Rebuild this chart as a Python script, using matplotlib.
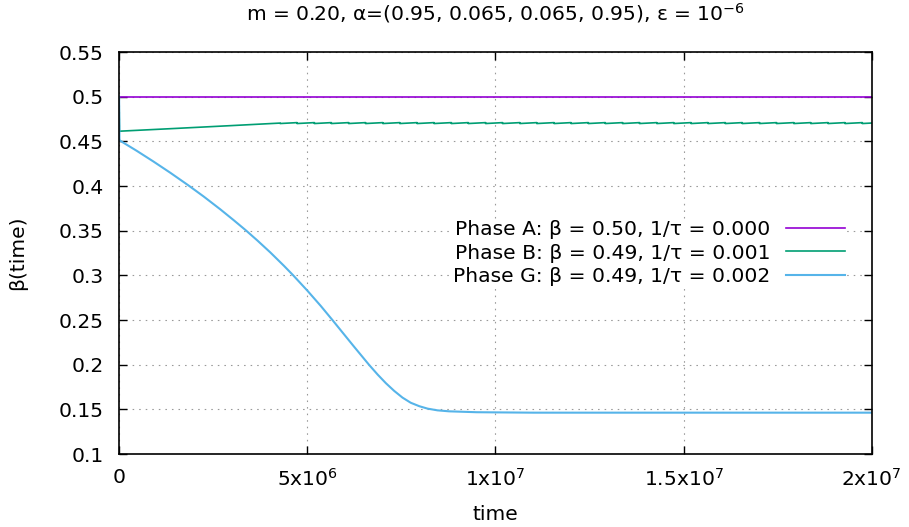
import numpy as np
import matplotlib
matplotlib.use("Agg")
import matplotlib.pyplot as plt
from matplotlib.ticker import FixedLocator, FuncFormatter

# ---- data ----
# Phase A: flat at 0.5
time_a = [0.0, 2.0e7]
beta_a = [0.5, 0.5]

# Phase B: short drop at t=0, slow rise, then a small sawtooth
time_b_start = [0.0, 1.0e4, 1.5e6, 3.0e6, 4.28e6]
beta_b_start = [0.5, 0.4615, 0.4646, 0.4678, 0.4706]
tooth_times = [4.28e6, 4.73e6, 5.19e6, 5.64e6, 6.10e6, 6.55e6, 7.01e6,
               7.46e6, 7.92e6, 8.37e6, 8.83e6, 9.28e6, 9.74e6, 10.19e6,
               10.65e6, 11.10e6, 11.56e6, 12.01e6, 12.47e6, 12.92e6,
               13.38e6, 13.83e6, 14.29e6, 14.74e6, 15.20e6, 15.65e6,
               16.11e6, 16.56e6, 17.02e6, 17.47e6, 17.93e6, 18.38e6,
               18.84e6, 19.29e6, 19.75e6]
tooth_high = 0.4711
tooth_low = 0.4701

# Phase G
time_g = [0.0, 1.0e4, 0.03e6, 0.47e6, 0.915e6, 1.36e6, 1.85e6, 2.25e6,
          2.69e6, 3.05e6, 3.36e6, 3.67e6, 4.02e6, 4.38e6, 4.62e6, 5.00e6,
          5.36e6, 5.67e6, 5.98e6, 6.24e6, 6.64e6, 6.87e6, 7.09e6, 7.31e6,
          7.53e6, 7.75e6, 7.98e6, 8.20e6, 8.46e6, 8.77e6, 9.5e6, 1.1e7,
          2.0e7]
beta_g = [0.5, 0.4515, 0.4508, 0.4395, 0.4275, 0.4150, 0.4006, 0.3883,
          0.3740, 0.3617, 0.3508, 0.3393, 0.3257, 0.3108, 0.3004, 0.2831,
          0.2658, 0.2500, 0.2339, 0.2204, 0.2000, 0.1890, 0.1793, 0.1707,
          0.1632, 0.1574, 0.1535, 0.1508, 0.1489, 0.1478, 0.1468, 0.1463,
          0.1463]

labels = ["Phase A: β = 0.50, 1/τ = 0.000",
          "Phase B: β = 0.49, 1/τ = 0.001",
          "Phase G: β = 0.49, 1/τ = 0.002"]
colors = ["#9400d3", "#009e73", "#56b4e9"]

xticks = [0, 5e6, 1e7, 1.5e7, 2e7]
xticklabels = ["0", r"5x10$^{6}$", r"1x10$^{7}$", r"1.5x10$^{7}$", r"2x10$^{7}$"]
yticks = [0.1, 0.15, 0.2, 0.25, 0.3, 0.35, 0.4, 0.45, 0.5, 0.55]

# build the sawtooth series for phase B
time_b = list(time_b_start)
beta_b = list(beta_b_start)
for i, t in enumerate(tooth_times):
    if i > 0:
        time_b.append(t)
        beta_b.append(tooth_high)
    time_b.append(t)
    beta_b.append(tooth_low)
time_b.append(2.0e7)
beta_b.append(tooth_low + (tooth_high - tooth_low) * 0.55)

plt.rcParams['font.family'] = "DejaVu Sans"
plt.rcParams['mathtext.fontset'] = "dejavusans"
fs = 14.6

fig = plt.figure(figsize=(9.09, 5.27), dpi=100)
ax = fig.add_axes([0.131, 0.1385, 0.828, 0.7625])

ax.plot(time_a, beta_a, color=colors[0], lw=1.2, label=labels[0])
ax.plot(time_b, beta_b, color=colors[1], lw=1.2, label=labels[1])
ax.plot(time_g, beta_g, color=colors[2], lw=1.5, label=labels[2])

ax.set_xlim(0, 2e7)
ax.set_ylim(0.1, 0.55)
ax.xaxis.set_major_locator(FixedLocator(xticks))
ax.set_xticklabels(xticklabels)
ax.yaxis.set_major_locator(FixedLocator(yticks))
ax.yaxis.set_major_formatter(FuncFormatter(lambda v, p: "%g" % v))

ax.tick_params(direction='in', length=6, width=1.0, top=True, right=True,
               labelsize=fs, colors='black')
ax.tick_params(axis='y', pad=11)
ax.tick_params(axis='x', pad=10)
for s in ax.spines.values():
    s.set_linewidth(1.2)

ax.grid(True, color='#999999', linestyle=(0, (1.4, 4.5)), linewidth=0.8)
ax.set_axisbelow(True)

ax.set_xlabel("time", fontsize=fs, labelpad=11)
ax.set_ylabel("β(time)", fontsize=fs, labelpad=23)
ax.set_title(r"m = 0.20, α=(0.95, 0.065, 0.065, 0.95), ε = 10$^{-6}$",
             fontsize=fs, pad=23)

leg = ax.legend(loc='center right', bbox_to_anchor=(0.964, 0.5),
                markerfirst=False, fontsize=fs, frameon=True,
                handlelength=2.9, handletextpad=0.75, labelspacing=0.22,
                borderpad=0.0, borderaxespad=0.0)
leg.get_frame().set_facecolor('white')
leg.get_frame().set_edgecolor('none')
leg.get_frame().set_alpha(1.0)
for t in leg.get_texts():
    t.set_ha('right')

fig.savefig("out.png", dpi=100)
